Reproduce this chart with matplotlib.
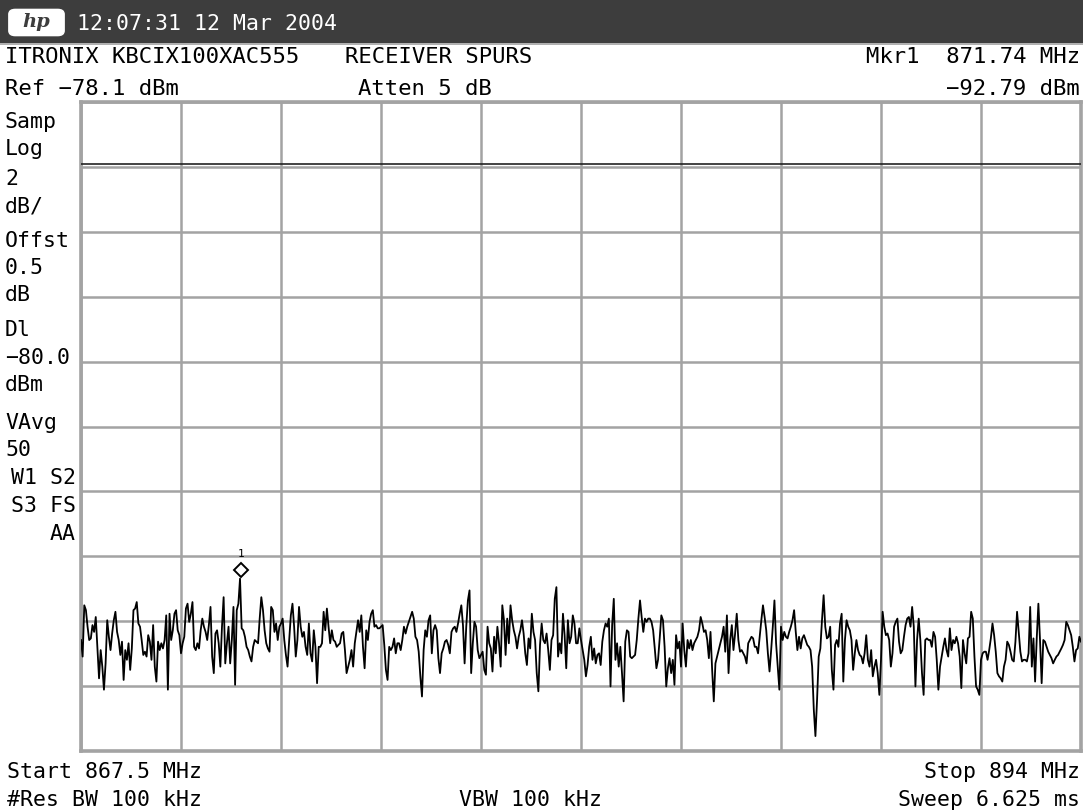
import matplotlib
matplotlib.use("Agg")
import matplotlib.pyplot as plt
import matplotlib.transforms as mtransforms
from matplotlib.patches import Rectangle, FancyBboxPatch
import numpy as np

# analyzer settings
start_mhz = 867.5
stop_mhz = 894.0
ref_dbm = -78.1
db_per_div = 2.0
display_line_dbm = -80.0
mkr_freq = 871.74
mkr_level = -92.79

# trace levels (dBm), read left to right across the screen
lvl_a = [-94.68, -95.19, -93.61, -93.76, -94.27, -94.68, -94.63, -94.22, -94.43, -93.97,
         -94.89, -95.86, -94.99, -95.50, -96.21, -95.40, -94.07, -94.58, -94.99, -94.48,
         -94.07, -93.81, -94.43, -94.68, -95.14, -94.73, -95.91, -94.99, -95.29, -94.78,
         -95.60, -94.94, -93.76, -93.71, -93.51, -94.17, -94.27, -94.68, -95.14, -95.04,
         -95.19, -94.53, -94.73, -95.29, -94.22, -95.50, -95.96, -94.73, -94.99, -94.78,
         -94.94, -94.68, -93.92, -96.21, -93.87, -94.68, -94.38, -93.87, -93.76, -94.38,
         -94.53, -95.09, -94.78, -94.58, -93.71, -93.56, -94.12, -93.87, -93.51, -94.89,
         -94.99, -94.78, -94.94, -94.38, -94.02, -94.27, -94.43, -94.68, -94.22, -93.66,
         -95.19, -95.70, -94.48, -94.38, -94.78, -95.50, -94.27, -93.36, -95.40, -94.78,
         -94.27, -95.40, -94.68, -93.66, -96.06, -93.76, -93.56, -92.79, -94.32, -94.38,
         -94.58, -94.89]
lvl_b = [-94.99, -95.19, -95.34, -94.89, -94.68, -94.73, -94.78, -94.02, -93.36, -93.76,
         -94.38, -94.78, -94.94, -95.04, -93.66, -93.76, -94.43, -94.17, -94.68, -94.27,
         -94.17, -94.02, -94.68, -95.14, -95.50, -94.68, -93.92, -93.56, -94.27, -95.19,
         -94.68, -93.66, -94.27, -94.58, -94.43, -94.89, -95.14, -94.17, -95.09, -95.34,
         -94.38, -94.89, -96.01, -94.89, -94.89, -94.78, -93.81, -94.38, -93.71, -94.27,
         -94.78, -94.38, -94.68, -94.73, -94.89, -94.83, -94.78, -94.48, -94.43, -94.99,
         -95.70, -95.50, -95.29, -94.99, -95.50, -94.78, -94.43, -94.07, -94.43, -93.92,
         -94.89, -95.55, -94.38, -94.68, -94.12, -93.87, -93.76, -94.27, -94.22, -94.32,
         -94.32, -94.27, -94.22, -94.83, -95.60, -95.91, -94.89, -94.99, -94.89, -94.63,
         -95.09, -94.78, -94.78, -94.99, -94.68, -94.27, -94.48, -94.27, -94.12, -93.97,
         -93.81, -94.02, -94.58]
lvl_c = [-94.68, -95.04, -95.80, -96.42, -94.99, -94.38, -94.58, -94.07, -93.92, -95.09,
         -94.38, -94.22, -94.38, -95.24, -95.70, -95.09, -94.94, -94.73, -94.68, -94.83,
         -95.09, -94.43, -94.32, -94.27, -94.43, -94.17, -93.87, -93.61, -94.22, -95.40,
         -94.27, -93.46, -93.15, -95.70, -94.78, -94.12, -94.27, -94.99, -95.24, -95.14,
         -95.04, -95.60, -95.75, -94.27, -94.78, -94.94, -95.65, -94.58, -95.09, -94.27,
         -94.78, -95.50, -93.61, -94.07, -95.14, -94.02, -94.78, -93.61, -94.07, -94.38,
         -94.58, -94.94, -94.58, -94.38, -94.07, -94.48, -95.09, -95.45, -94.63, -94.94,
         -93.87, -94.43, -94.68, -95.70, -96.26, -94.83, -94.17, -94.68, -94.78, -94.48,
         -94.99, -95.60, -94.68, -94.53, -93.41, -93.05, -95.19, -94.78, -95.09, -93.87,
         -94.53, -95.55, -94.07, -94.78, -94.58, -93.92, -94.17, -94.78, -94.78, -94.32,
         -94.68, -94.99, -95.29, -95.80]
lvl_d = [-95.45, -94.89, -94.58, -95.29, -94.94, -95.40, -95.14, -95.09, -95.45, -94.73,
         -94.38, -94.17, -94.27, -94.02, -96.11, -94.22, -93.41, -95.29, -94.78, -95.50,
         -94.89, -95.70, -96.57, -94.73, -94.38, -94.43, -95.19, -95.24, -95.19, -95.14,
         -94.68, -94.02, -93.46, -93.97, -94.43, -94.02, -94.12, -94.02, -94.02, -94.12,
         -94.38, -94.94, -95.55, -95.29, -94.63, -93.92, -94.07, -94.89, -96.11, -95.55,
         -95.24, -95.70, -95.29, -96.06, -94.53, -94.94, -94.73, -95.50, -94.17, -94.99,
         -95.50, -94.68, -94.94, -94.68, -94.99, -94.78, -94.68, -94.58, -94.38, -93.97,
         -94.17, -94.43, -94.38, -94.68, -95.24, -94.43, -95.60, -96.57, -95.40, -95.19,
         -94.99, -94.78, -94.58, -94.27, -95.04, -93.92, -95.70, -94.68, -94.22, -94.99,
         -94.48, -93.87, -94.68, -95.04, -94.99, -95.09, -95.19, -95.40, -94.78, -94.68,
         -94.58, -94.63, -94.89]
lvl_e = [-94.89, -95.09, -94.58, -94.07, -93.61, -93.97, -94.38, -95.09, -95.65, -94.99,
         -94.27, -93.46, -94.78, -95.50, -96.21, -94.27, -94.68, -94.43, -94.58, -94.63,
         -94.43, -94.27, -94.07, -93.76, -94.43, -94.99, -94.58, -94.94, -94.63, -94.53,
         -94.68, -94.83, -94.89, -94.99, -95.50, -96.82, -97.64, -96.52, -95.19, -94.94,
         -94.07, -93.30, -94.27, -94.63, -94.58, -94.27, -95.60, -96.21, -94.83, -94.68,
         -94.89, -94.17, -93.87, -95.96, -94.68, -94.07, -94.27, -94.38, -94.68, -95.60,
         -95.09, -94.68, -94.99, -95.14, -95.19, -95.40, -95.09, -94.53, -95.29, -95.50,
         -94.99, -95.80, -95.50, -95.29, -95.70, -96.37, -95.29, -93.81, -94.27, -94.53,
         -94.48, -94.68, -95.50, -95.09, -94.27, -94.12, -94.02, -94.73, -95.09, -94.99,
         -94.58, -94.22, -94.02, -93.97, -94.27, -93.66, -94.27, -96.11, -94.68, -94.02,
         -94.68, -95.70, -96.37, -94.68, -94.63]
lvl_f = [-94.68, -94.68, -94.89, -94.43, -94.58, -95.29, -96.21, -95.50, -95.19, -94.89,
         -94.63, -94.99, -95.19, -94.32, -94.99, -94.68, -94.78, -94.58, -94.78, -95.19,
         -96.16, -94.68, -95.09, -95.40, -94.63, -94.58, -93.81, -94.02, -95.19, -96.11,
         -96.21, -96.37, -95.29, -95.09, -95.04, -95.04, -95.29, -94.99, -94.63, -94.17,
         -94.53, -95.04, -95.70, -95.80, -95.86, -95.96, -95.50, -95.29, -94.73, -94.83,
         -95.04, -95.29, -95.34, -94.73, -93.81, -94.43, -95.04, -95.34, -95.29, -95.29,
         -95.34, -95.09, -93.66, -95.50, -94.63, -95.96, -94.63, -93.56, -94.68, -96.01,
         -94.68, -94.73, -94.89, -95.04, -95.14, -95.24, -95.40, -95.29, -95.19, -95.14,
         -95.04, -94.94, -94.83, -94.68, -94.12, -94.22, -94.38, -94.53, -94.89, -95.34,
         -94.99, -94.94, -94.58, -94.73]

side_labels = ["Samp", "Log", "2", "dB/", "Offst", "0.5", "dB", "Dl", "\u221280.0", "dBm",
               "VAvg", "50", "W1 S2", "S3 FS", "AA"]
side_baselines = [128, 155, 185, 212, 247, 274, 301, 336, 364, 391, 429, 456, 484, 512, 540]

W, H = 1083, 810
MONO = "DejaVu Sans Mono"
GRID = "#a3a3a3"

levels = np.array(lvl_a + lvl_b + lvl_c + lvl_d + lvl_e + lvl_f)
freqs = np.linspace(start_mhz, stop_mhz, len(levels))
bottom_dbm = ref_dbm - 10 * db_per_div

fig = plt.figure(figsize=(W / 100, H / 100), dpi=100)
fig.patch.set_facecolor("white")


def fx(x):
    return x / W


def fy(y):
    return 1 - y / H


def put(x, y, s, ha="left", size=15.5, color="black"):
    fig.text(fx(x), fy(y), s, ha=ha, va="baseline", fontsize=size,
             family=MONO, color=color)


# title bar with logo and date
fig.patches.append(Rectangle((0, fy(43)), 1, 43 / H, transform=fig.transFigure,
                             facecolor="#3d3d3d", edgecolor="none"))
fig.patches.append(Rectangle((0, fy(45)), 1, 2 / H, transform=fig.transFigure,
                             facecolor="#b0b0b0", edgecolor="none"))
fig.patches.append(FancyBboxPatch((fx(11), fy(34)), 51 / W, 23 / H,
                                  boxstyle="round,pad=0.002,rounding_size=0.006",
                                  transform=fig.transFigure, facecolor="white",
                                  edgecolor="white"))
fig.text(fx(36.5), fy(22), "hp", ha="center", va="center", fontsize=14,
         fontweight="bold", style="italic", family="DejaVu Serif", color="#3d3d3d")
put(77, 30, "12:07:31 12 Mar 2004", color="white")

# header rows
put(5, 63, "ITRONIX KBCIX100XAC555", size=16)
put(345, 63, "RECEIVER SPURS", size=16)
put(1080, 63, "Mkr1  871.74 MHz", ha="right", size=16)
put(5, 95, "Ref \u221278.1 dBm", size=16)
put(358, 95, "Atten 5 dB", size=16)
put(1080, 95, "\u221292.79 dBm", ha="right", size=16)

# left annotation column
for lab, yb in zip(side_labels, side_baselines):
    if lab in ("W1 S2", "S3 FS", "AA"):
        put(76, yb, lab, ha="right")
    else:
        put(5, yb, lab)

# footer
put(7, 778, "Start 867.5 MHz")
put(1080, 778, "Stop 894 MHz", ha="right")
put(7, 806, "#Res BW 100 kHz")
put(459, 806, "VBW 100 kHz")
put(1080, 806, "Sweep 6.625 ms", ha="right")

# graticule
ax = fig.add_axes([fx(81), fy(751), 1000 / W, 649 / H])
ax.set_xlim(start_mhz, stop_mhz)
ax.set_ylim(bottom_dbm, ref_dbm)
ax.set_xticks(np.linspace(start_mhz, stop_mhz, 11))
ax.set_yticks(np.linspace(bottom_dbm, ref_dbm, 11))
ax.tick_params(length=0, labelbottom=False, labelleft=False)
ax.grid(True, color=GRID, lw=1.8)
for sp in ax.spines.values():
    sp.set_color(GRID)
    sp.set_linewidth(2.6)

ax.axhline(display_line_dbm, color="#222222", lw=1.2, zorder=3)
ax.plot(freqs, levels, color="black", lw=1.3, zorder=4)

# marker 1
mk_tr = mtransforms.offset_copy(ax.transData, fig=fig, x=0, y=6, units="points")
ax.plot([mkr_freq], [mkr_level], marker="D", ms=7, mfc="white", mec="black",
        mew=1.4, transform=mk_tr, zorder=5)
ax.annotate("1", (mkr_freq, mkr_level), xytext=(0, 18), textcoords="offset points",
            ha="center", va="center", fontsize=8, family=MONO, zorder=5)

fig.savefig("out.png", dpi=100)
